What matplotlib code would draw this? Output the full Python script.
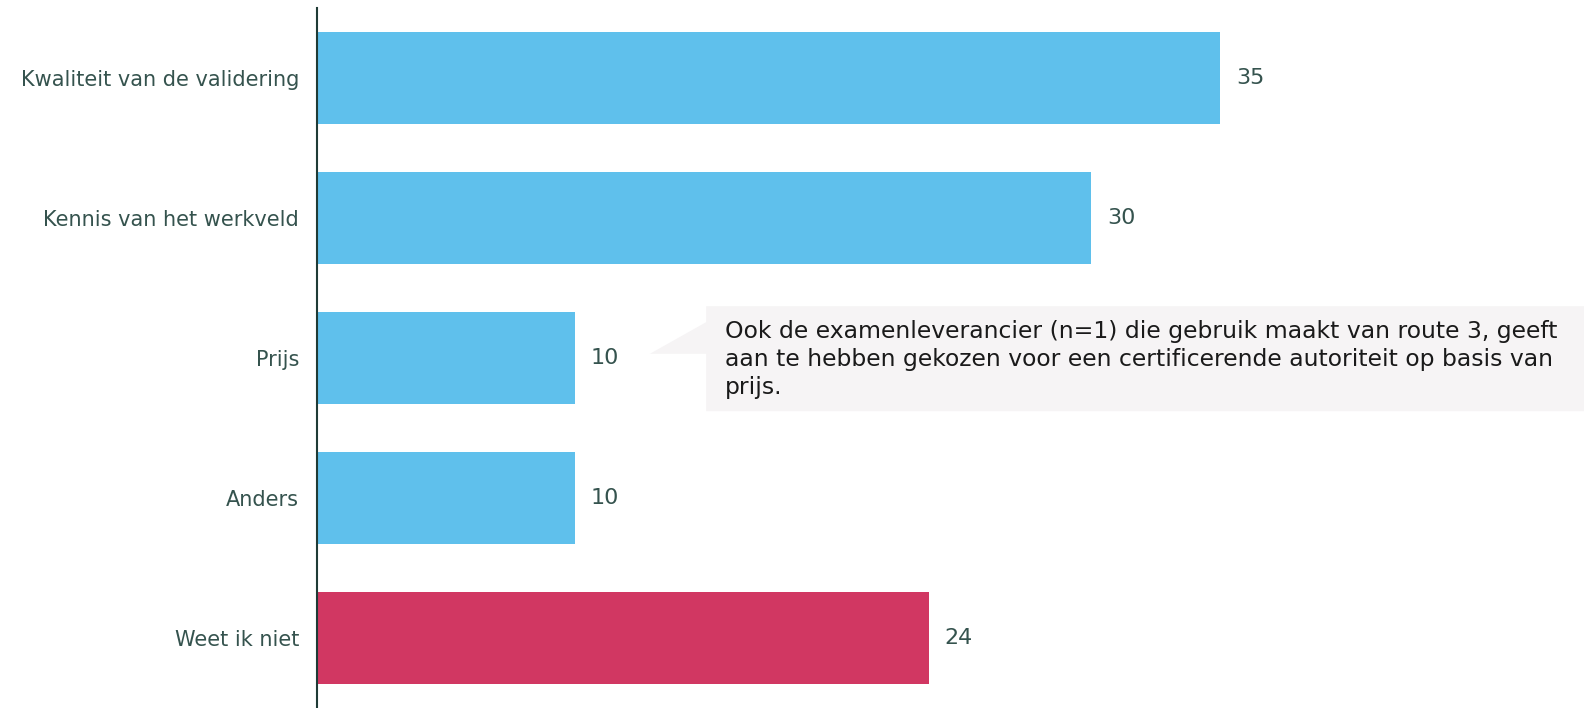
import numpy as np
import matplotlib.pyplot as plt
from matplotlib.patches import Polygon

categories = ['Kwaliteit van de validering', 'Kennis van het werkveld', 'Prijs', 'Anders', 'Weet ik niet']
values = [35, 30, 10, 10, 23.7]
bar_colors = ['#5FC0EC', '#5FC0EC', '#5FC0EC', '#5FC0EC', '#D13762']
note = ('Ook de examenleverancier (n=1) die gebruik maakt van route 3, geeft\n'
        'aan te hebben gekozen voor een certificerende autoriteit op basis van\n'
        'prijs.')

plt.rcParams['font.family'] = ['DejaVu Sans']
text_col = '#35534E'

fig = plt.figure(figsize=(15.84, 7.08), dpi=100)
ax = fig.add_axes([317 / 1584, 0, 1 - 317 / 1584, 1 - 8 / 708])

y = np.arange(len(categories))
ax.barh(y, values, height=0.66, color=bar_colors)
for yi, v in zip(y, values):
    ax.text(v + 0.62, yi, f'{v:.0f}', va='center', ha='left', fontsize=16, color=text_col)

ax.set_xlim(0, 49.1)
ax.set_ylim(4.5, -0.5)
ax.set_yticks(y)
ax.set_yticklabels(categories, fontsize=15, color=text_col)
ax.tick_params(axis='y', length=0, pad=13)
ax.set_xticks([])
for s in ['top', 'right', 'bottom']:
    ax.spines[s].set_visible(False)
ax.spines['left'].set_color('#1F3B36')
ax.spines['left'].set_linewidth(1.5)

# callout box next to "Prijs"
box = Polygon([(15.08, 1.63), (49.1, 1.63), (49.1, 2.38), (15.08, 2.38),
               (15.08, 1.97), (12.9, 1.97), (15.08, 1.744)],
              closed=True, facecolor='#F6F4F5', edgecolor='none', clip_on=False)
ax.add_patch(box)
ax.text(15.8, 2.01, note, va='center', ha='left', fontsize=16.9,
        color='#1A1A1A', linespacing=1.26)

fig.savefig('out.png', dpi=100)
